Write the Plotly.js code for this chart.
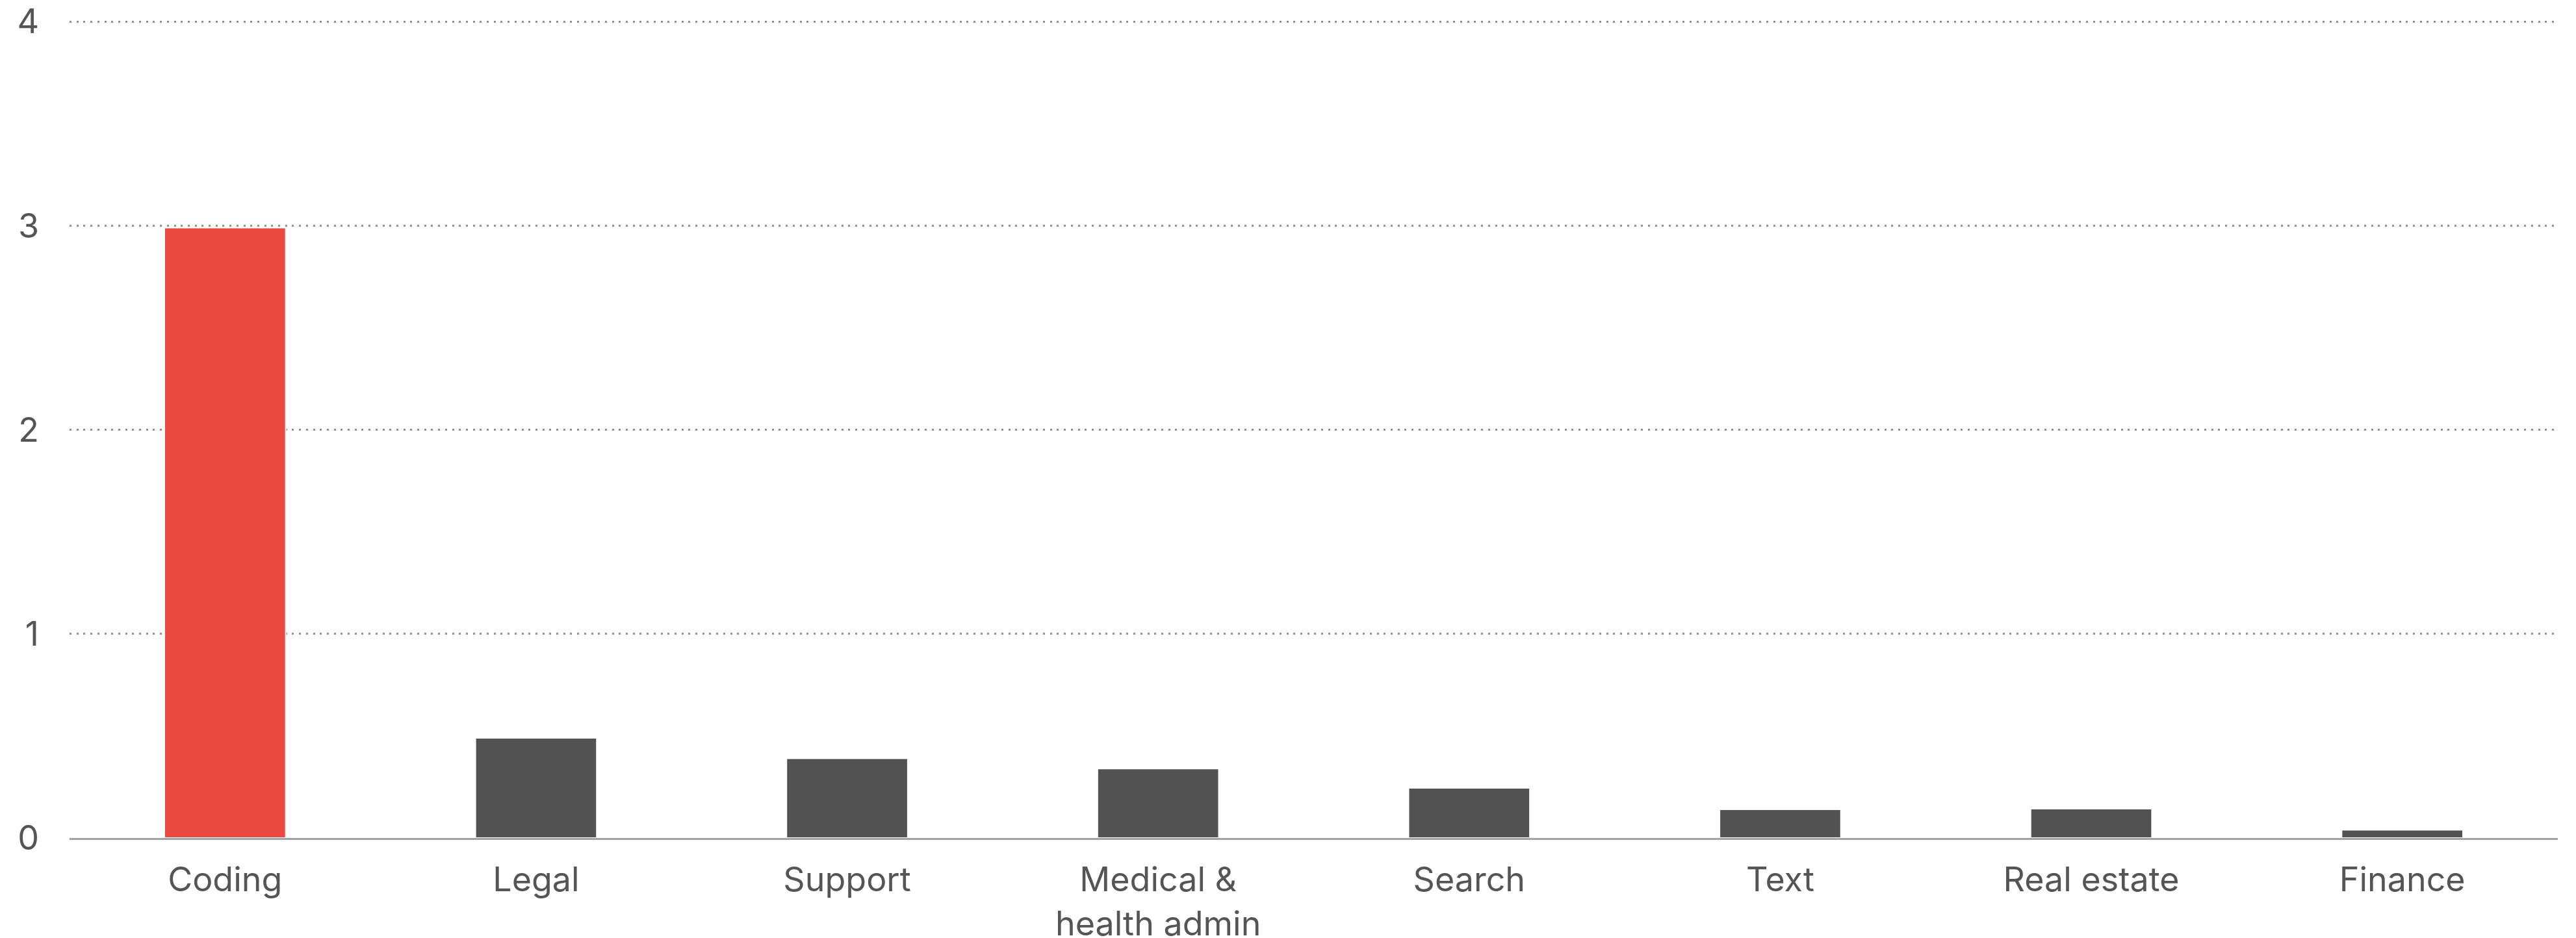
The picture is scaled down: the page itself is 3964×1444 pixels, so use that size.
<!DOCTYPE html>
<html>
<head>
<meta charset="utf-8">
<script src="https://cdn.plot.ly/plotly-3.0.1.min.js"></script>
<style>
  html, body { margin: 0; padding: 0; background: #ffffff; }
  #chart { width: 3964px; height: 1444px; }
</style>
</head>
<body>
<div id="chart"></div>
<script>
const categories = ["Coding", "Legal", "Support", "Medical &<br>health admin", "Search", "Text", "Real estate", "Finance"];
const values = [2.99, 0.49, 0.39, 0.34, 0.245, 0.14, 0.143, 0.04];
const barColors = ["#EB4A43", "#525252", "#525252", "#525252", "#525252", "#525252", "#525252", "#525252"];
const yTickVals = [0, 1, 2, 3, 4];
const yTickText = ["0", "1", "2", "3", "4"];

const trace = {
  type: "bar",
  x: categories,
  y: values,
  width: 0.39,
  marker: { color: barColors, line: { color: "#ffffff", width: 2 } },
  hoverinfo: "x+y"
};

const layout = {
  width: 3964,
  height: 1444,
  margin: { l: 106.6, r: 27.7, t: 30, b: 154, pad: 0 },
  paper_bgcolor: "#ffffff",
  plot_bgcolor: "#ffffff",
  showlegend: false,
  font: { family: "Inter, 'Liberation Sans', Arial, sans-serif", size: 52, color: "#555555" },
  bargap: 0.61,
  xaxis: {
    type: "category",
    range: [-0.5, 7.5],
    showgrid: false,
    zeroline: false,
    showline: true,
    linecolor: "#a3a3a3",
    linewidth: 3,
    ticks: "",
    ticklabelstandoff: 17,
    tickfont: { family: "Inter, 'Liberation Sans', Arial, sans-serif", size: 52, color: "#555555" },
    fixedrange: true
  },
  yaxis: {
    range: [0, 4.01],
    tickmode: "array",
    tickvals: yTickVals,
    ticktext: yTickText,
    showgrid: true,
    gridcolor: "#8f8f8f",
    gridwidth: 3,
    griddash: "3px,7.7px",
    zeroline: false,
    showline: false,
    ticks: "",
    ticklabelstandoff: 46,
    tickfont: { family: "Inter, 'Liberation Sans', Arial, sans-serif", size: 52, color: "#555555" },
    fixedrange: true
  }
};

Plotly.newPlot("chart", [trace], layout, { displayModeBar: false, staticPlot: true });
</script>
</body>
</html>
